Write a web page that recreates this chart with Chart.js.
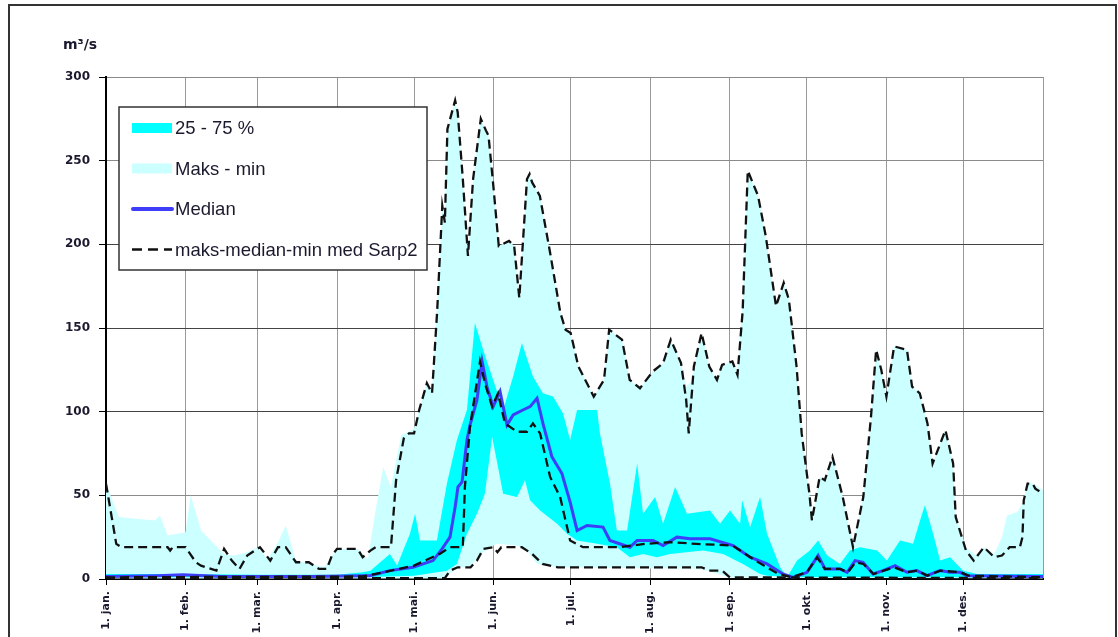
<!DOCTYPE html>
<html>
<head>
<meta charset="utf-8">
<script src="https://cdn.jsdelivr.net/npm/chart.js@4.4.1/dist/chart.umd.min.js"></script>
<style>
  html, body { margin: 0; padding: 0; background: #fff; }
  #wrap { width: 1118px; height: 637px; position: relative; }
</style>
</head>
<body>
<div id="wrap"><canvas id="flowChart"></canvas></div>
<script>
// month ticks (day of year)
const monthDays = [0, 31, 59, 90, 120, 151, 181, 212, 243, 273, 304, 334, 365];
const monthLabels = ["1. jan.", "1. feb.", "1. mar.", "1. apr.", "1. mai.", "1. jun.",
  "1. jul.", "1. aug.", "1. sep.", "1. okt.", "1. nov.", "1. des.", ""];

// Maks - min (light band)
const maxEnvDays = [0, 5, 12, 19, 21, 24, 31, 33, 37, 46, 50, 55, 59, 63, 67, 70, 74, 80, 85, 90, 98, 102, 105, 108, 111, 115, 118, 120, 122, 125, 127, 129, 131, 132, 133, 136, 137, 139, 141, 143, 146, 148, 149, 151, 153, 157, 159, 161, 164, 165, 166, 169, 173, 177, 179, 181, 184, 187, 190, 194, 196, 201, 204, 208, 213, 217, 220, 224, 226, 228, 229, 232, 235, 238, 240, 244, 246, 248, 250, 254, 257, 261, 264, 266, 269, 271, 274, 275, 278, 280, 283, 287, 291, 295, 298, 300, 302, 304, 307, 312, 314, 317, 320, 322, 327, 330, 331, 335, 339, 342, 346, 349, 351, 355, 357, 359, 361, 365];
const maxEnvVals = [57, 37, 36, 35, 38, 26, 28, 50, 29, 15, 14, 16, 19, 12, 22, 32, 11, 9, 7, 18, 18, 12, 41, 67, 55, 86, 88, 90, 101, 117, 113, 165, 223, 215, 269, 286, 279, 239, 193, 239, 275, 268, 265, 233, 199, 202, 199, 168, 240, 242, 237, 229, 195, 159, 149, 147, 127, 118, 109, 119, 149, 143, 119, 114, 124, 129, 143, 129, 115, 118, 127, 147, 127, 119, 128, 130, 124, 165, 244, 229, 205, 163, 177, 167, 127, 87, 51, 36, 61, 59, 73, 49, 20, 49, 97, 137, 125, 109, 139, 137, 115, 111, 93, 69, 89, 69, 37, 19, 14, 19, 15, 25, 38, 40, 45, 58, 57, 53];
const minEnvDays = [0, 132, 136, 142, 147, 152, 160, 164, 168, 176, 232, 236, 243, 365];
const minEnvVals = [0.3, 0.3, 6, 8, 16, 21, 20, 17, 9, 7, 6, 4, 1, 0.3];

// 25 - 75 % (cyan band)
const p75Days = [0, 30, 60, 90, 100, 103, 110.6, 113.4, 118.4, 120.4, 122.3, 128.9, 132.8, 136.7, 140.6, 143.7, 146.9, 150.8, 154.7, 158.6, 162, 166.3, 170.2, 174.1, 178, 180.8, 183.5, 191.3, 192.4, 196.3, 199, 203, 206.9, 209.2, 213.9, 217, 221.7, 226.3, 235.3, 239.2, 243.1, 247, 247.8, 250.9, 254.8, 257.5, 262.6, 265.3, 269.2, 274.2, 277.4, 280.9, 285.9, 289.8, 293.7, 300.4, 304.2, 309.3, 314.4, 317.1, 319, 322.2, 324.9, 328.8, 333.9, 339.3, 365];
const p75Vals = [3, 3, 2.5, 2.5, 4, 5, 15, 8, 27, 39, 23, 23, 57, 83, 101, 153, 137, 119, 101, 121, 141, 121, 111, 109, 99, 83, 101, 101, 87, 57, 29, 29, 69, 39, 49, 33, 55, 39, 41, 33, 41, 33, 47, 31, 49, 27, 7, 1, 11, 17, 23, 14, 9, 17, 19, 17, 11, 23, 21, 35, 44, 27, 11, 13, 5, 3, 3];
const p25Days = [0, 100, 120, 132.8, 136.7, 140.6, 144.5, 147.6, 150.4, 152.7, 154.7, 160.1, 163.2, 165.2, 169.1, 175.7, 179.6, 183.5, 191.3, 199, 204.1, 209.2, 214.6, 219.7, 232.6, 240.4, 248.1, 254.8, 257.5, 270, 365];
const p25Vals = [1, 1, 2, 5, 9, 27, 39, 51, 85, 67, 51, 49, 59, 47, 41, 33, 27, 23, 21, 19, 13, 15, 13, 15, 17, 15, 9, 3, 2, 1, 1];

// Median
const medianDays = [0, 20, 30, 45, 60, 80, 100, 102.8, 110.6, 119.6, 127.4, 130.9, 134, 136, 137.1, 138.7, 140.6, 141.8, 144.5, 146.5, 148.4, 150.8, 153.5, 156.2, 158.6, 162.4, 165.2, 167.9, 170.2, 173.7, 177.6, 180.8, 183.5, 187.4, 193.6, 196.3, 204.1, 206.9, 213.1, 217, 222.4, 227.5, 235.3, 244.3, 250.9, 257.5, 263.7, 267.6, 273.1, 277.4, 280.1, 285.9, 288.7, 291.8, 294.9, 298.8, 302.7, 307.4, 312, 315.9, 319.8, 324.9, 328.8, 332.7, 335.4, 365];
const medianVals = [1.5, 2, 2.5, 1.5, 1.5, 1.5, 2, 2, 5, 7, 11, 18, 25, 43, 55, 58, 83, 92, 107, 130, 115, 103, 112, 92, 98, 101, 103, 108, 93, 73, 63, 46, 29, 32, 31, 23, 19, 23, 23, 20, 25, 24, 24, 20, 13, 9, 3, 1, 4, 14, 6, 6, 4, 11, 10, 3, 5, 8, 4, 5, 2, 5, 4, 4, 2, 1.5];

// maks-median-min med Sarp2
const sarpMaxDays = [0, 4, 6, 24, 25, 26, 31, 35, 37, 43, 46, 49, 52, 55, 60, 64, 67, 70, 74, 79, 83, 86, 88, 90, 98, 100, 103, 105, 111, 113, 116, 118, 120, 122, 125, 127, 129, 131, 132, 133, 136, 137, 139, 141, 143, 146, 148, 149, 151, 153, 157, 159, 161, 164, 165, 166, 169, 173, 177, 179, 181, 184, 187, 190, 194, 196, 201, 204, 208, 213, 217, 220, 224, 226, 227, 229, 232, 235, 238, 240, 244, 246, 248, 250, 254, 257, 261, 264, 266, 269, 271, 274, 275, 278, 280, 283, 287, 291, 295, 298, 300, 302, 304, 307, 312, 314, 317, 320, 322, 327, 330, 331, 335, 338, 342, 346, 349, 352, 356, 357, 357.5, 359, 361, 362, 364, 365];
const sarpMaxVals = [57, 21, 19, 19, 17, 19, 19, 10, 8, 5, 18, 11, 6, 14, 19, 11, 19, 19, 10, 10, 6, 6, 14, 18, 18, 13, 17, 19, 19, 59, 84, 87, 87, 101, 117, 111, 160, 223, 213, 269, 286, 279, 239, 193, 239, 275, 268, 265, 233, 199, 202, 199, 168, 239, 242, 237, 229, 195, 159, 149, 147, 127, 118, 109, 119, 149, 143, 119, 114, 124, 129, 143, 129, 107, 87, 127, 147, 127, 119, 128, 130, 122, 160, 244, 229, 205, 163, 177, 167, 127, 87, 51, 35, 61, 59, 73, 49, 19, 49, 97, 137, 125, 109, 139, 137, 115, 111, 93, 69, 89, 69, 37, 17, 11, 19, 13, 14, 19, 19, 25, 47, 57, 57, 54, 52, 51];
const sarpMedDays = [0, 100, 108, 120, 130, 134, 139, 139.8, 141.8, 145.7, 147.6, 150.4, 152.7, 155.4, 160.1, 164, 166.3, 169.1, 173, 176.9, 180.8, 185.8, 200, 210, 220, 230, 244, 253, 262, 267, 273, 277, 280, 286, 289, 292, 295, 299, 303, 307, 312, 316, 320, 325, 333, 336, 365];
const sarpMedVals = [1, 1.5, 4, 8, 15, 19, 19, 55, 91, 130, 117, 103, 111, 93, 88, 88, 93, 87, 61, 49, 23, 19, 19, 21, 22, 21, 20, 11, 3, 1, 4, 13, 6, 6, 4, 10, 9, 3, 5, 7, 4, 5, 2, 5, 4, 2, 1];
const sarpMinDays = [0, 132, 134, 137, 142, 144.5, 147, 151, 152.5, 154, 162, 166, 170, 176, 232, 235, 240, 243, 365];
const sarpMinVals = [0.5, 0.5, 5, 7, 7, 11, 18, 19, 16, 19, 19, 15, 9, 7, 7, 5, 5, 1, 0.5];

const pts = (days, vals) => days.map((d, i) => ({ x: d, y: vals[i] }));

const LIGHT = "#ccffff";
const CYAN = "#00ffff";
const BLUE = "#3d3dfa";
const DASH = "#111111";

const legendItems = [
  { label: "25 - 75 %", kind: "box", color: CYAN },
  { label: "Maks - min", kind: "box", color: LIGHT },
  { label: "Median", kind: "line", color: BLUE },
  { label: "maks-median-min med Sarp2", kind: "dash", color: DASH }
];

// frame, unit label and legend box
const decorPlugin = {
  id: "decor",
  beforeDraw(chart) {
    const c = chart.ctx;
    c.save();
    c.fillStyle = "#fff";
    c.fillRect(0, 0, chart.width, chart.height);
    c.restore();
  },
  afterDraw(chart) {
    const c = chart.ctx;
    const a = chart.chartArea;
    c.save();
    c.strokeStyle = "#333";
    c.lineWidth = 2;
    c.strokeRect(9, 5, 1107, 660);

    c.fillStyle = "#1a1a2e";
    c.font = 'bold 14px "DejaVu Sans"';
    c.textBaseline = "alphabetic";
    c.fillText("m³/s", 63, 49);

    const bx = a.left + 13, by = a.top + 30, bw = 308, bh = 163;
    c.fillStyle = "#fff";
    c.fillRect(bx, by, bw, bh);
    c.strokeStyle = "#333";
    c.lineWidth = 1.5;
    c.strokeRect(bx, by, bw, bh);

    c.font = '18.5px "Liberation Sans"';
    c.textBaseline = "middle";
    legendItems.forEach((it, i) => {
      const y = by + 21 + i * 40.5;
      const sx = bx + 13;
      if (it.kind === "box") {
        c.fillStyle = it.color;
        c.fillRect(sx, y - 5, 40, 10);
      } else if (it.kind === "line") {
        c.strokeStyle = it.color;
        c.lineWidth = 4;
        c.lineCap = "round";
        c.beginPath(); c.moveTo(sx + 1, y); c.lineTo(sx + 40, y); c.stroke();
        c.lineCap = "butt";
      } else {
        c.strokeStyle = it.color;
        c.lineWidth = 2.5;
        c.setLineDash([10, 6]);
        c.beginPath(); c.moveTo(sx, y); c.lineTo(sx + 40, y); c.stroke();
        c.setLineDash([]);
      }
      c.fillStyle = "#1a1a2e";
      c.fillText(it.label, sx + 43, y + 1);
    });
    c.restore();
  }
};

const band = (data, color, fill, order) => ({
  data, backgroundColor: color, borderWidth: 0, pointRadius: 0, fill, order, tension: 0
});
const dashed = (data) => ({
  data, borderColor: DASH, borderWidth: 2.3, borderDash: [9, 5], pointRadius: 0, fill: false, order: 0, tension: 0
});

new Chart(document.getElementById("flowChart"), {
  type: "line",
  data: {
    datasets: [
      band(pts(maxEnvDays, maxEnvVals), LIGHT, "+1", 5),
      band(pts(minEnvDays, minEnvVals), LIGHT, false, 5),
      band(pts(p75Days, p75Vals), CYAN, "+1", 4),
      band(pts(p25Days, p25Vals), CYAN, false, 4),
      { data: pts(medianDays, medianVals), borderColor: BLUE, borderWidth: 3, pointRadius: 0, fill: false, order: 1, tension: 0 },
      dashed(pts(sarpMaxDays, sarpMaxVals)),
      dashed(pts(sarpMedDays, sarpMedVals)),
      dashed(pts(sarpMinDays, sarpMinVals))
    ]
  },
  options: {
    responsive: true,
    maintainAspectRatio: false,
    animation: false,
    layout: { padding: { left: 46, right: 75, top: 77, bottom: 0 } },
    plugins: { legend: { display: false }, tooltip: { enabled: false } },
    scales: {
      x: {
        type: "linear",
        min: 0,
        max: 365,
        afterBuildTicks: (s) => { s.ticks = monthDays.map(v => ({ value: v })); },
        afterFit: (s) => { s.height = 58; },
        grid: {
          color: "#999",
          lineWidth: 1,
          tickLength: 6,
          tickColor: (ctx) => (ctx.tick && ctx.tick.value === 365 ? "rgba(0,0,0,0)" : "#000")
        },
        border: { color: "#000", width: 2 },
        ticks: {
          autoSkip: false,
          maxRotation: 90,
          minRotation: 90,
          padding: 6,
          color: "#1a1a2e",
          font: { family: "DejaVu Sans", size: 11, weight: "bold" },
          callback: (v) => monthLabels[monthDays.indexOf(v)]
        }
      },
      y: {
        min: 0,
        max: 300,
        afterFit: (s) => { s.width = 60; },
        grid: {
          color: (ctx) => (ctx.tick && ctx.tick.value >= 100 && ctx.tick.value <= 200 ? "#444" : "#8a8a8a"),
          lineWidth: 1,
          tickLength: 7,
          tickColor: "#000"
        },
        border: { color: "#000", width: 2 },
        ticks: {
          stepSize: 50,
          padding: 9,
          color: "#1a1a2e",
          font: { family: "DejaVu Sans", size: 12, weight: "bold" }
        }
      }
    }
  },
  plugins: [decorPlugin]
});
</script>
</body>
</html>
